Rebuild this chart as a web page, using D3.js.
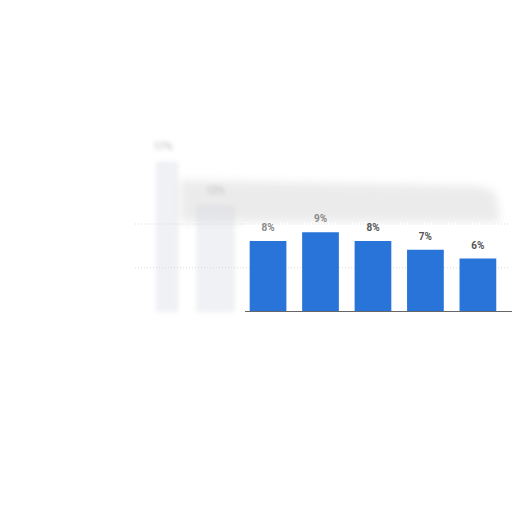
<!DOCTYPE html>
<html>
<head>
<meta charset="utf-8">
<script src="https://cdn.jsdelivr.net/npm/d3@7"></script>
<style>
  html, body { margin: 0; padding: 0; background: #fff; }
  svg { display: block; }
</style>
</head>
<body>
<svg id="chart" width="512" height="512"></svg>
<script>
// data (left two bars are faded out)
var categories = ['c1', 'c2', 'c3', 'c4', 'c5', 'c6', 'c7'];
var shares = [17, 12, 8, 9, 8, 7, 6];
var faded = [true, true, false, false, false, false, false];
var gridTicks = [5, 10];

var svg = d3.select('#chart');

var x = d3.scaleBand()
  .domain(categories)
  .range([129, 512])
  .padding(0.3);

var y = d3.scaleLinear()
  .domain([0, 20])
  .range([311, 136]);

var defs = svg.append('defs');
defs.append('filter').attr('id', 'blur')
  .attr('x', '-50%').attr('y', '-50%').attr('width', '200%').attr('height', '200%')
  .append('feGaussianBlur').attr('stdDeviation', 4);
defs.append('filter').attr('id', 'soft')
  .attr('x', '-50%').attr('y', '-50%').attr('width', '200%').attr('height', '200%')
  .append('feGaussianBlur').attr('stdDeviation', 2);

// grey smear above the panel
svg.append('path')
  .attr('d', 'M180,180 L480,186 L495,192 L498,205 L500,222 L180,222 Z')
  .attr('fill', '#cfcfcf')
  .attr('opacity', 0.4)
  .attr('filter', 'url(#blur)');

svg.append('rect')
  .attr('x', 245).attr('y', y(10))
  .attr('width', 267).attr('height', y(0) - y(10))
  .attr('fill', '#fff');

// grid lines
svg.append('g')
  .attr('transform', 'translate(135,0)')
  .call(d3.axisLeft(y).tickValues(gridTicks).tickSize(-375).tickFormat(''))
  .call(function(g) {
    g.select('.domain').remove();
    g.selectAll('line')
      .attr('stroke', '#dddddd')
      .attr('stroke-dasharray', '1,2');
  });

// faded part on the left
var ghost = svg.append('g').attr('filter', 'url(#soft)');
ghost.selectAll('rect')
  .data(shares.filter(function(d, i) { return faded[i]; }))
  .enter()
  .append('rect')
  .attr('x', function(d, i) { return x(categories[i]) + (i === 0 ? 12 : 0); })
  .attr('y', function(d) { return y(d); })
  .attr('width', function(d, i) { return i === 0 ? x.bandwidth() - 16 : x.bandwidth(); })
  .attr('height', function(d) { return y(0) - y(d); })
  .attr('fill', '#d3d8e2')
  .attr('stroke', '#c0c5ce')
  .attr('opacity', 0.35);

ghost.selectAll('text')
  .data(shares.filter(function(d, i) { return faded[i]; }))
  .enter()
  .append('text')
  .attr('x', function(d, i) { return x(categories[i]) + x.bandwidth() / 2; })
  .attr('y', function(d) { return y(d) - 12; })
  .attr('text-anchor', 'middle')
  .attr('font-family', 'Roboto, sans-serif')
  .attr('font-size', 10)
  .attr('font-weight', 'bold')
  .attr('fill', '#c8c8c8')
  .text(function(d) { return d + '%'; });

// visible bars
var visible = categories.filter(function(c, i) { return !faded[i]; });
var visibleVals = shares.filter(function(d, i) { return !faded[i]; });

svg.append('g').selectAll('rect')
  .data(visibleVals)
  .enter()
  .append('rect')
  .attr('x', function(d, i) { return x(visible[i]); })
  .attr('y', function(d) { return y(d); })
  .attr('width', x.bandwidth())
  .attr('height', function(d) { return y(0) - y(d); })
  .attr('fill', '#2874d8');

svg.append('g').selectAll('text')
  .data(visibleVals)
  .enter()
  .append('text')
  .attr('x', function(d, i) { return x(visible[i]) + x.bandwidth() / 2; })
  .attr('y', function(d) { return y(d) - 10; })
  .attr('text-anchor', 'middle')
  .attr('font-family', 'Roboto, sans-serif')
  .attr('font-size', 10)
  .attr('font-weight', 'bold')
  .attr('fill', function(d, i) { return i < 2 ? '#8a8a8a' : '#555'; })
  .text(function(d) { return d + '%'; });

// baseline
svg.append('line')
  .attr('x1', 245).attr('x2', 512)
  .attr('y1', y(0) + 0.5).attr('y2', y(0) + 0.5)
  .attr('stroke', '#666');
</script>
</body>
</html>
